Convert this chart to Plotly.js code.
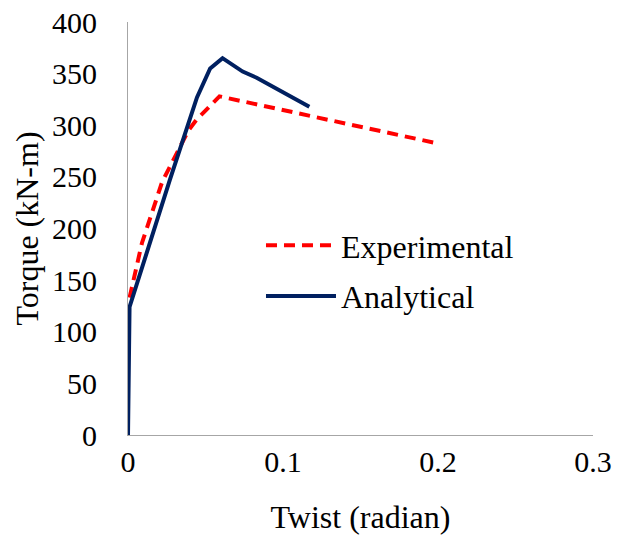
<!DOCTYPE html>
<html>
<head>
<meta charset="utf-8">
<script src="https://cdn.plot.ly/plotly-3.0.1.min.js"></script>
<style>html,body{margin:0;padding:0;background:#fff;}#chart{width:629px;height:540px;}</style>
</head>
<body>
<div id="chart"></div>
<script>
// Data
const expTwist   = [0.001, 0.009, 0.022, 0.039, 0.044, 0.059, 0.201];
const expTorque  = [133, 186, 245, 295, 305, 328, 282];
const anaTwist   = [0, 0.001, 0.027, 0.0445, 0.053, 0.061, 0.074, 0.083, 0.117];
const anaTorque  = [0, 124, 247, 327, 355, 365, 352, 346, 318];
const seriesNames = ["Experimental", "Analytical"];
const xTicks = [0, 0.1, 0.2, 0.3];
const xTickText = ["0", "0.1", "0.2", "0.3"];
const yTicks = [0, 50, 100, 150, 200, 250, 300, 350, 400];
const xTitle = "Twist (radian)";
const yTitle = "Torque (kN-m)";

const FONT = "Liberation Serif, Times New Roman, serif";

const traces = [
  {x: expTwist, y: expTorque, name: seriesNames[0], mode: "lines", legendgroup: "a",
   line: {color: "#FF0000", width: 4, dash: "11px,7px"}},
  {x: anaTwist, y: anaTorque, name: seriesNames[1], mode: "lines", legendgroup: "b",
   line: {color: "#002060", width: 4}}
];

const layout = {
  width: 629, height: 540,
  margin: {l: 128, r: 36, t: 22, b: 105, pad: 0},
  paper_bgcolor: "#fff", plot_bgcolor: "#fff",
  font: {family: FONT, size: 30, color: "#000"},
  showlegend: true,
  legend: {x: 0.286, y: 0.397, xanchor: "left", yanchor: "middle", bgcolor: "rgba(0,0,0,0)",
           font: {family: FONT, size: 32, color: "#000"}, itemwidth: 70, tracegroupgap: 6},
  xaxis: {range: [0, 0.3], tickvals: xTicks, ticktext: xTickText, showgrid: false, zeroline: false,
          showline: true, linecolor: "#A6A6A6", linewidth: 1, ticks: "",
          tickfont: {family: FONT, size: 30},
          title: {text: xTitle, font: {family: FONT, size: 32}, standoff: 28}},
  yaxis: {range: [0, 400], tickvals: yTicks, showgrid: false, zeroline: false,
          showline: true, linecolor: "#A6A6A6", linewidth: 1, ticks: "outside", ticklen: 24,
          tickcolor: "rgba(0,0,0,0)", tickfont: {family: FONT, size: 30},
          title: {text: yTitle, font: {family: FONT, size: 32}, standoff: 3}}
};

Plotly.newPlot("chart", traces, layout, {displayModeBar: false, staticPlot: true});
</script>
</body>
</html>
